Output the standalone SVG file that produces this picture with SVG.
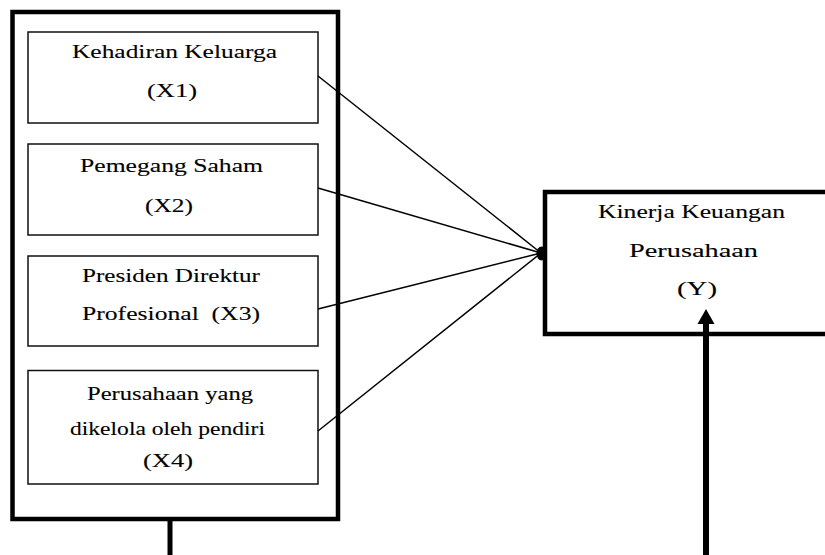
<svg xmlns="http://www.w3.org/2000/svg" width="825" height="555" viewBox="0 0 825 555">
<style>
.thick{fill:none;stroke:#000;stroke-width:4.5}
.box{fill:#fff;stroke:#111;stroke-width:1.5}
.t{font-family:"Liberation Serif","Times New Roman",serif;font-size:18.5px;fill:#000;stroke:#000;stroke-width:0.1}
.ln{stroke:#000;stroke-width:1.5;fill:none}
</style>
<g id="outer"><rect class="thick" x="12.5" y="12" width="325.5" height="507"/></g>
<g id="x1">
<rect class="box" x="28" y="32" width="290" height="91"/>
<text class="t" x="72" y="58" textLength="205" lengthAdjust="spacingAndGlyphs">Kehadiran Keluarga</text>
<text class="t" x="147" y="97" textLength="50" lengthAdjust="spacingAndGlyphs">(X1)</text>
</g>
<g id="x2">
<rect class="box" x="28" y="144" width="290" height="91"/>
<text class="t" x="80" y="171.5" textLength="183" lengthAdjust="spacingAndGlyphs">Pemegang Saham</text>
<text class="t" x="145" y="211.5" textLength="48" lengthAdjust="spacingAndGlyphs">(X2)</text>
</g>
<g id="x3">
<rect class="box" x="28" y="256" width="290" height="90"/>
<text class="t" x="82" y="281.5" textLength="178" lengthAdjust="spacingAndGlyphs">Presiden Direktur</text>
<text class="t" x="82" y="320" textLength="178" lengthAdjust="spacingAndGlyphs" xml:space="preserve">Profesional  (X3)</text>
</g>
<g id="x4">
<rect class="box" x="28" y="370.5" width="290" height="113.5"/>
<text class="t" x="87" y="400" textLength="166" lengthAdjust="spacingAndGlyphs">Perusahaan yang</text>
<text class="t" x="70" y="435" textLength="195" lengthAdjust="spacingAndGlyphs">dikelola oleh pendiri</text>
<text class="t" x="143" y="466.5" textLength="50" lengthAdjust="spacingAndGlyphs">(X4)</text>
</g>
<g id="y">
<rect class="thick" x="545" y="192" width="290" height="142"/>
<text class="t" x="598" y="218" textLength="187" lengthAdjust="spacingAndGlyphs">Kinerja Keuangan</text>
<text class="t" x="629" y="256.5" textLength="129" lengthAdjust="spacingAndGlyphs">Perusahaan</text>
<text class="t" x="677" y="295" textLength="40" lengthAdjust="spacingAndGlyphs">(Y)</text>
</g>
<g id="connectors">
<line class="ln" x1="318" y1="76" x2="541" y2="253"/>
<line class="ln" x1="318" y1="188" x2="541" y2="253"/>
<line class="ln" x1="318" y1="309" x2="541" y2="253"/>
<line class="ln" x1="318" y1="431" x2="541" y2="253"/>
<ellipse cx="541.5" cy="253.5" rx="5" ry="7" fill="#000"/>
<line x1="170" y1="519" x2="170" y2="555" stroke="#000" stroke-width="5"/>
<line x1="706" y1="555" x2="706" y2="322" stroke="#000" stroke-width="6"/>
<polygon points="706,309 697.5,324 714.5,324" fill="#000"/>
</g>
</svg>
